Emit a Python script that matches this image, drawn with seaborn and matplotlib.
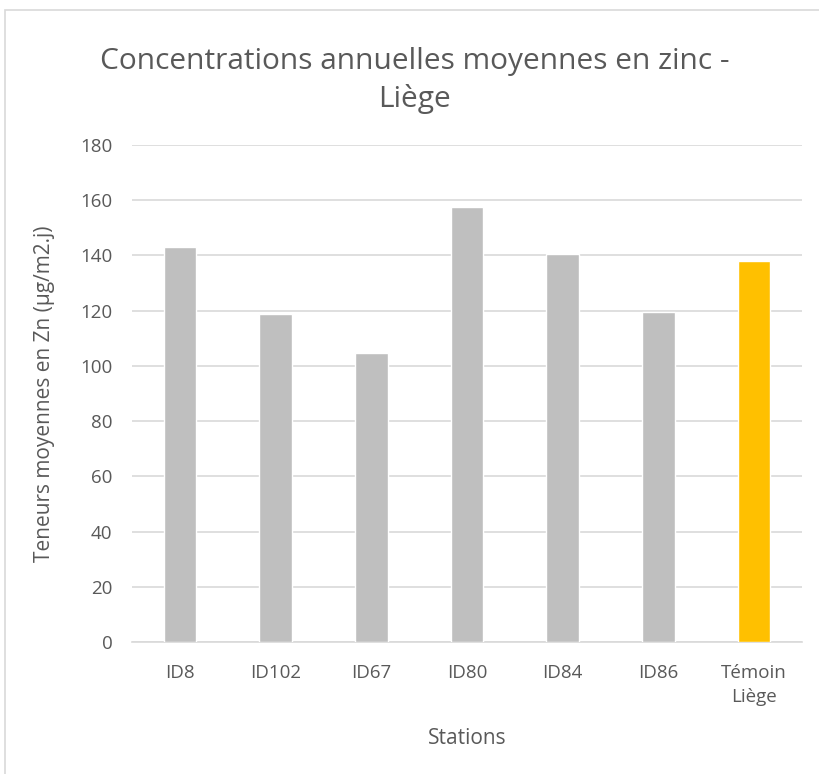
import matplotlib
matplotlib.use('Agg')
import matplotlib.pyplot as plt
import seaborn as sns
import pandas as pd
from matplotlib.patches import Rectangle

# --------------
# Data
# --------------
stations = ['ID8', 'ID102', 'ID67', 'ID80', 'ID84', 'ID86', 'Témoin\nLiège']
teneurs = [143.0, 118.7, 104.5, 157.7, 140.4, 119.5, 137.9]
bar_colors = ['#BFBFBF'] * 6 + ['#FFC000']

df = pd.DataFrame({'station': stations, 'teneur': teneurs})

sns.set_theme(style='white')
plt.rcParams['font.family'] = ['Open Sans', 'DejaVu Sans']
text_col = '#595959'

fig = plt.figure(figsize=(8.2, 7.74), dpi=100)
ax = fig.add_axes([0.161, 0.1705, 0.817, 0.6422])

sns.barplot(data=df, x='station', y='teneur', hue='station', palette=bar_colors,
            legend=False, width=0.34, saturation=1, ax=ax, zorder=3)

ax.set_ylim(0, 180)
ax.set_yticks(range(0, 181, 20))
ax.grid(axis='y', color='#D9D9D9', linewidth=1.2, zorder=0)
ax.set_axisbelow(True)
for side in ['top', 'right', 'left']:
    ax.spines[side].set_visible(False)
ax.spines['bottom'].set_color('#D9D9D9')
ax.spines['bottom'].set_linewidth(1.2)
ax.tick_params(axis='both', length=0, labelsize=13.5, colors=text_col)
ax.tick_params(axis='y', pad=14)
ax.tick_params(axis='x', pad=16)
for lbl in ax.get_xticklabels():
    lbl.set_linespacing(1.4)

ax.set_xlabel('Stations', fontsize=15, color=text_col, labelpad=16)
ax.set_ylabel('Teneurs moyennes en Zn (µg/m2.j)', fontsize=15, color=text_col, labelpad=18)

fig.text(0.506, 0.920, 'Concentrations annuelles moyennes en zinc -', ha='center', va='center',
         fontsize=21.5, color=text_col)
fig.text(0.506, 0.872, 'Liège', ha='center', va='center', fontsize=21.5, color=text_col)

# outer chart border
fig.patches.append(Rectangle((0.006, -0.01), 1.0, 0.997, transform=fig.transFigure,
                             fill=False, edgecolor='#D9D9D9', linewidth=1.2))

fig.savefig('out.png', dpi=100)
